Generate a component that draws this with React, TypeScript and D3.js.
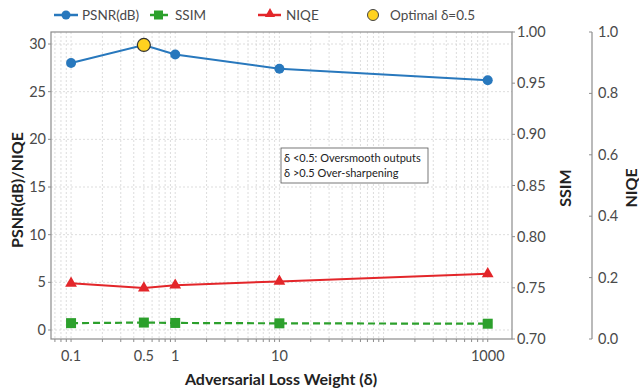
import React, { useRef, useEffect } from "react";
import * as d3 from "d3";

// data
const deltas = [0.1, 0.5, 1, 10, 1000];
const psnr = [28.0, 29.9, 28.9, 27.4, 26.2];
const ssim = [0.72, 0.78, 0.74, 0.7, 0.66]; // drawn against the left axis, as in the figure
const niqe = [4.9, 4.4, 4.7, 5.1, 5.9];
const xTickLabels = ["0.1", "0.5", "1", "10", "1000"];
const leftTicks = [0, 5, 10, 15, 20, 25, 30];
const ssimTicks = [0.7, 0.75, 0.8, 0.85, 0.9, 0.95, 1.0];
const niqeTicks = [0, 0.2, 0.4, 0.6, 0.8, 1.0];

const W = 639;
const H = 390;
const plot = { left: 51, right: 512, top: 32, bottom: 339 };
const font = "Lato, 'Open Sans', sans-serif";
const axisGray = "#8c8c8c";
const textGray = "#4a4a4a";

const colors = { psnr: "#2878bd", ssim: "#2ca02c", niqe: "#e3262a", opt: "#ffd21f" };

export default function App() {
  const svgRef = useRef<SVGSVGElement>(null);

  useEffect(() => {
    const svg = d3.select(svgRef.current);
    svg.selectAll("*").remove();

    const x = d3.scaleLog().domain([0.0642, 1710]).range([plot.left, plot.right]);
    // left axis: 30 at y=44, 0 at y=330
    const y = d3.scaleLinear().domain([0, 30]).range([330, 44]);
    const ySsim = d3.scaleLinear().domain([0.7, 1.0]).range([plot.bottom, plot.top]);
    const yNiqe = d3.scaleLinear().domain([0, 1]).range([plot.bottom, plot.top]);

    // grid: vertical minor/major log lines
    const logTicks: number[] = [];
    for (let e = -2; e <= 3; e++) {
      for (let m = 1; m <= 9; m++) {
        const v = m * Math.pow(10, e);
        if (v >= x.domain()[0] && v <= x.domain()[1]) logTicks.push(v);
      }
    }
    const grid = svg.append("g");
    grid.selectAll("line.v")
      .data(logTicks)
      .enter()
      .append("line")
      .attr("x1", d => x(d))
      .attr("x2", d => x(d))
      .attr("y1", plot.top)
      .attr("y2", plot.bottom)
      .attr("stroke", "#d4d4d4")
      .attr("stroke-width", 0.8)
      .attr("stroke-dasharray", "2,2");

    grid.selectAll("line.h")
      .data(leftTicks)
      .enter()
      .append("line")
      .attr("x1", plot.left)
      .attr("x2", plot.right)
      .attr("y1", d => y(d))
      .attr("y2", d => y(d))
      .attr("stroke", "#d4d4d4")
      .attr("stroke-width", 0.8)
      .attr("stroke-dasharray", "2,2");

    // plot frame
    svg.append("rect")
      .attr("x", plot.left)
      .attr("y", plot.top)
      .attr("width", plot.right - plot.left)
      .attr("height", plot.bottom - plot.top)
      .attr("fill", "none")
      .attr("stroke", axisGray)
      .attr("stroke-width", 1.2);

    // x ticks (small, below axis)
    svg.append("g").selectAll("line")
      .data(logTicks)
      .enter()
      .append("line")
      .attr("x1", d => x(d))
      .attr("x2", d => x(d))
      .attr("y1", plot.bottom)
      .attr("y2", plot.bottom + 3)
      .attr("stroke", axisGray);

    svg.append("g").selectAll("text")
      .data(deltas)
      .enter()
      .append("text")
      .attr("x", d => x(d))
      .attr("y", 361)
      .attr("text-anchor", "middle")
      .style("font-family", font)
      .style("font-size", "14.5px")
      .style("fill", textGray)
      .text((d, i) => xTickLabels[i]);

    // left axis
    const gl = svg.append("g");
    gl.selectAll("line")
      .data(leftTicks)
      .enter()
      .append("line")
      .attr("x1", plot.left - 3)
      .attr("x2", plot.left)
      .attr("y1", d => y(d))
      .attr("y2", d => y(d))
      .attr("stroke", axisGray);
    gl.selectAll("text")
      .data(leftTicks)
      .enter()
      .append("text")
      .attr("x", plot.left - 5)
      .attr("y", d => y(d))
      .attr("dy", "0.35em")
      .attr("text-anchor", "end")
      .style("font-family", font)
      .style("font-size", "14.5px")
      .style("fill", textGray)
      .text(d => d);

    // SSIM axis (right side of frame)
    const gs = svg.append("g");
    gs.selectAll("line")
      .data(ssimTicks)
      .enter()
      .append("line")
      .attr("x1", plot.right)
      .attr("x2", plot.right + 3)
      .attr("y1", d => ySsim(d))
      .attr("y2", d => ySsim(d))
      .attr("stroke", axisGray);
    gs.selectAll("text")
      .data(ssimTicks)
      .enter()
      .append("text")
      .attr("x", plot.right + 5)
      .attr("y", d => ySsim(d))
      .attr("dy", "0.35em")
      .style("font-family", font)
      .style("font-size", "14.5px")
      .style("fill", textGray)
      .text(d => d3.format(".2f")(d));

    // NIQE axis (separate, far right)
    const nx = 592;
    const gn = svg.append("g");
    gn.append("line")
      .attr("x1", nx)
      .attr("x2", nx)
      .attr("y1", plot.top)
      .attr("y2", plot.bottom)
      .attr("stroke", axisGray)
      .attr("stroke-width", 1.2);
    gn.selectAll("line.t")
      .data(niqeTicks)
      .enter()
      .append("line")
      .attr("x1", nx - 3)
      .attr("x2", nx)
      .attr("y1", d => yNiqe(d))
      .attr("y2", d => yNiqe(d))
      .attr("stroke", axisGray);
    gn.selectAll("text")
      .data(niqeTicks)
      .enter()
      .append("text")
      .attr("x", nx + 6)
      .attr("y", d => yNiqe(d))
      .attr("dy", "0.35em")
      .style("font-family", font)
      .style("font-size", "14.5px")
      .style("fill", textGray)
      .text(d => d3.format(".1f")(d));

    // axis titles
    const title = (tx: number, ty: number, rot: boolean, t: string) =>
      svg.append("text")
        .attr("transform", `translate(${tx},${ty})${rot ? " rotate(-90)" : ""}`)
        .attr("text-anchor", "middle")
        .style("font-family", font)
        .style("font-size", "16px")
        .style("font-weight", "bold")
        .style("fill", "#222")
        .text(t);
    title(23, 190, true, "PSNR(dB)/NIQE");
    title(571, 188, true, "SSIM");
    title(637, 188, true, "NIQE");
    title(281, 385, false, "Adversarial Loss Weight (δ)");

    // series
    const pts = (vals: number[]) => deltas.map((d, i) => [x(d), y(vals[i])] as [number, number]);
    const line = d3.line();

    svg.append("path")
      .attr("d", line(pts(ssim)))
      .attr("fill", "none")
      .attr("stroke", colors.ssim)
      .attr("stroke-width", 2.2)
      .attr("stroke-dasharray", "7,4");
    svg.append("g").selectAll("rect")
      .data(pts(ssim))
      .enter()
      .append("rect")
      .attr("x", d => d[0] - 5)
      .attr("y", d => d[1] - 5)
      .attr("width", 10)
      .attr("height", 10)
      .attr("fill", colors.ssim);

    svg.append("path")
      .attr("d", line(pts(niqe)))
      .attr("fill", "none")
      .attr("stroke", colors.niqe)
      .attr("stroke-width", 2);
    const tri = d3.symbol().type(d3.symbolTriangle).size(60);
    svg.append("g").selectAll("path")
      .data(pts(niqe))
      .enter()
      .append("path")
      .attr("d", tri())
      .attr("transform", d => `translate(${d[0]},${d[1]})`)
      .attr("fill", colors.niqe);

    svg.append("path")
      .attr("d", line(pts(psnr)))
      .attr("fill", "none")
      .attr("stroke", colors.psnr)
      .attr("stroke-width", 2);
    svg.append("g").selectAll("circle")
      .data(pts(psnr))
      .enter()
      .append("circle")
      .attr("cx", d => d[0])
      .attr("cy", d => d[1])
      .attr("r", 5)
      .attr("fill", colors.psnr);

    // optimal point
    svg.append("circle")
      .attr("cx", x(0.5))
      .attr("cy", y(psnr[1]))
      .attr("r", 6.5)
      .attr("fill", colors.opt)
      .attr("stroke", "#333")
      .attr("stroke-width", 1.2);

    // annotation box
    const box = svg.append("g").attr("transform", "translate(281,148)");
    box.append("rect")
      .attr("width", 147)
      .attr("height", 35)
      .attr("fill", "white")
      .attr("stroke", "#555")
      .attr("stroke-width", 0.8);
    ["δ <0.5: Oversmooth outputs", "δ >0.5 Over-sharpening"].forEach((t, i) => {
      box.append("text")
        .attr("x", 3)
        .attr("y", 14 + i * 15)
        .style("font-family", font)
        .style("font-size", "11px")
        .style("fill", "#222")
        .text(t);
    });

    // legend
    const lg = svg.append("g").attr("transform", "translate(0,15)");
    const txt = (tx: number, t: string) =>
      lg.append("text")
        .attr("x", tx)
        .attr("y", 0)
        .attr("dy", "0.35em")
        .style("font-family", font)
        .style("font-size", "13.5px")
        .style("fill", textGray)
        .text(t);

    lg.append("line").attr("x1", 54).attr("x2", 78).attr("stroke", colors.psnr).attr("stroke-width", 2.5);
    lg.append("circle").attr("cx", 66).attr("r", 4.5).attr("fill", colors.psnr);
    txt(82, "PSNR(dB)");

    lg.append("line").attr("x1", 150).attr("x2", 168).attr("stroke", colors.ssim).attr("stroke-width", 2.5);
    lg.append("rect").attr("x", 154).attr("y", -4.5).attr("width", 9).attr("height", 9).attr("fill", colors.ssim);
    txt(175, "SSIM");

    lg.append("line").attr("x1", 258).attr("x2", 281).attr("stroke", colors.niqe).attr("stroke-width", 2.5);
    lg.append("path").attr("d", d3.symbol().type(d3.symbolTriangle).size(45)()).attr("transform", "translate(270,-1)").attr("fill", colors.niqe);
    txt(286, "NIQE");

    lg.append("circle").attr("cx", 373).attr("r", 5.5).attr("fill", colors.opt).attr("stroke", "#444").attr("stroke-width", 1);
    txt(390, "Optimal δ=0.5");
  }, []);

  return (
    <svg
      ref={svgRef}
      width={W}
      height={H}
      style={{ position: "absolute", left: 0, top: 0, background: "white" }}
    />
  );
}
